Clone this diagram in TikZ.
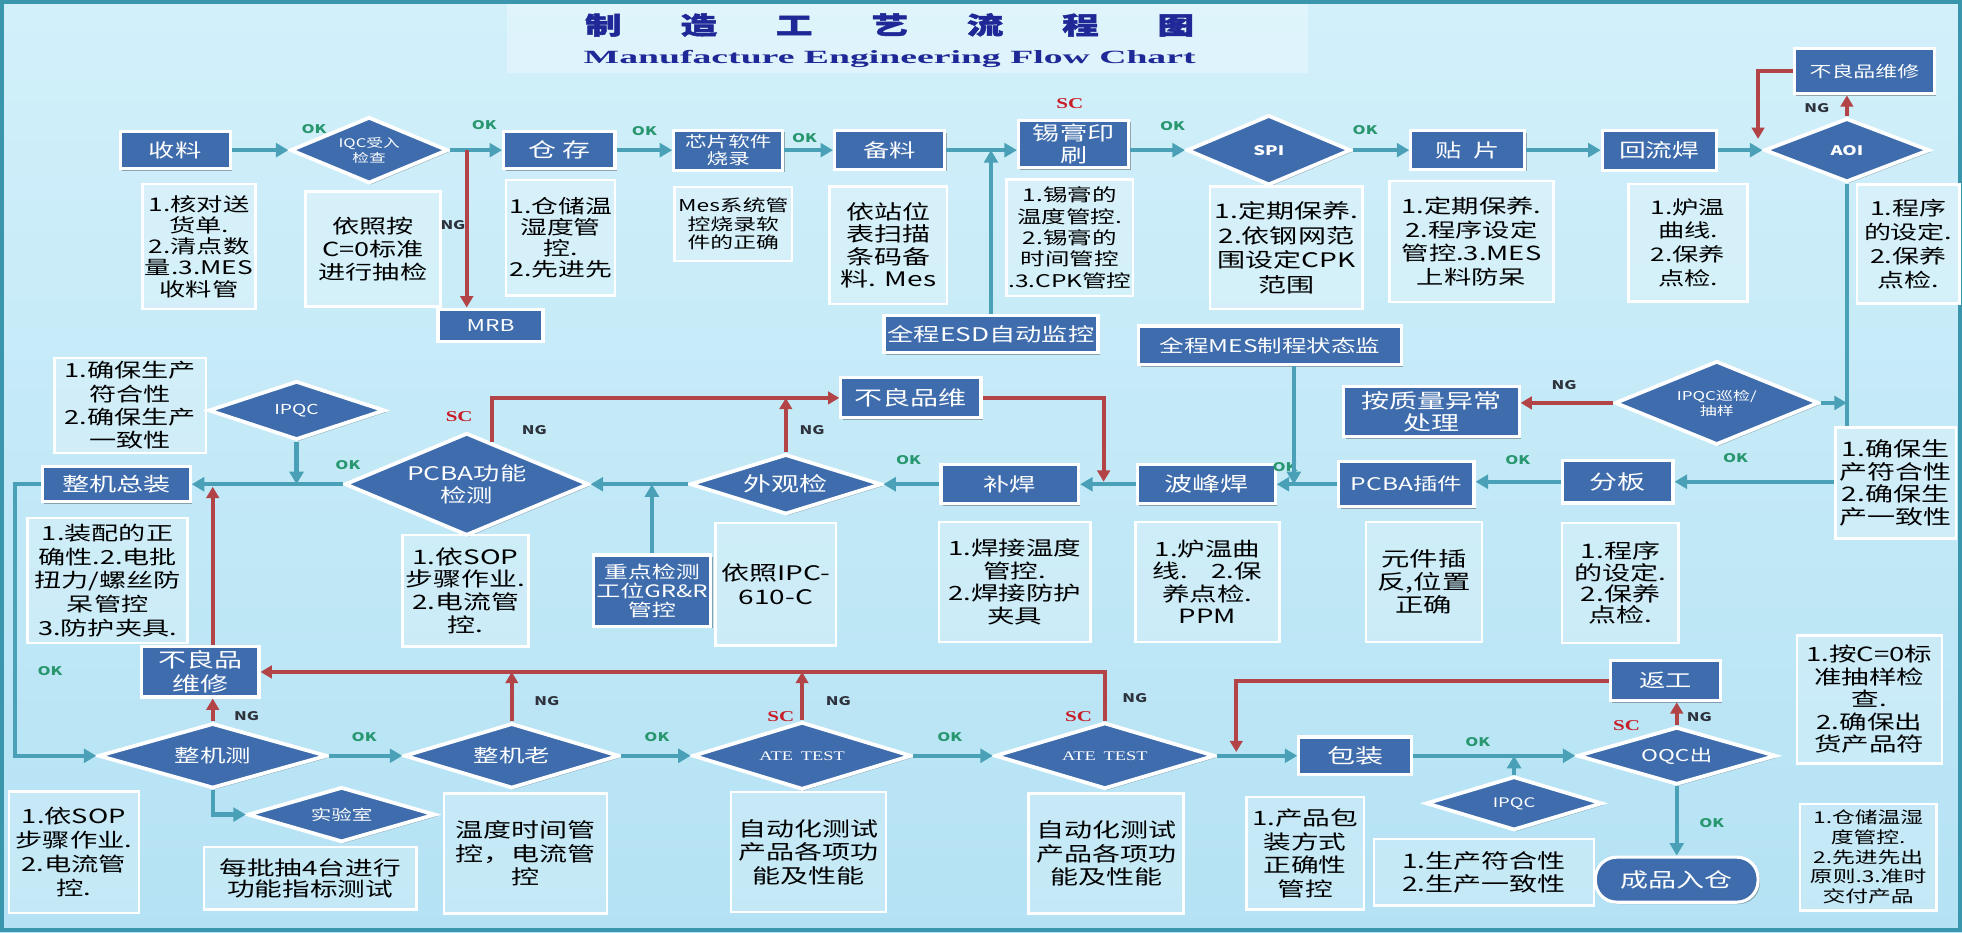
\documentclass[tikz,border=0pt]{standalone}
\usepackage{graphicx}
\usepackage{fontspec}
\setmainfont[FakeStretch=1.4]{Noto Sans CJK SC}
\newfontfamily\titlecjk[FakeStretch=1.5,FakeBold=2]{Noto Sans CJK SC}
\newfontfamily\serifw[FakeStretch=1.4]{Liberation Serif}
\newfontfamily\titleen{Liberation Serif}
\usetikzlibrary{shapes.geometric,arrows.meta,shadows}
\newcommand\myfs[2]{\fontsize{#1pt}{#2pt}\selectfont}
\newcommand\tg{\hspace{47pt}}
\definecolor{bgtop}{RGB}{210,240,250}
\definecolor{bgbot}{RGB}{180,226,244}
\definecolor{boxblue}{RGB}{62,108,172}
\definecolor{tealc}{RGB}{74,160,182}
\definecolor{redc}{RGB}{178,68,72}
\definecolor{okc}{RGB}{40,150,110}
\definecolor{ngc}{RGB}{45,50,60}
\definecolor{scc}{RGB}{200,30,40}
\definecolor{titlec}{RGB}{30,40,150}
\definecolor{framec}{RGB}{58,150,172}
\tikzset{
 bbox/.style={rectangle, fill=boxblue, draw=white, line width=2.5pt, text=white, inner sep=1pt, align=center,
   drop shadow={shadow xshift=1.5pt, shadow yshift=-1.5pt, fill=black, opacity=0.3}},
 bdia/.style={diamond, fill=boxblue, draw=white, line width=3pt, text=white, inner sep=0pt, align=center,
   drop shadow={shadow xshift=1.5pt, shadow yshift=-1.5pt, fill=black, opacity=0.25}},
 dbox/.style={rectangle, fill=white, fill opacity=0.22, text opacity=1, draw=white, draw opacity=1, line width=2pt, text=black, inner sep=1pt, align=center},
 tarr/.style={draw=tealc, line width=3.5pt, -{Triangle[length=10pt,width=11pt]}},
 tline/.style={draw=tealc, line width=3.5pt},
 rarr/.style={draw=redc, line width=3pt, -{Triangle[length=9pt,width=10pt]}},
 oklab/.style={text=okc, font=\myfs{9.5}{10}\bfseries, inner sep=0pt},
 nglab/.style={text=ngc, font=\myfs{9.5}{10}\bfseries, inner sep=0pt},
 sclab/.style={text=scc, font=\serifw\myfs{12}{12}\bfseries, inner sep=0pt},
}
\begin{document}
\begin{tikzpicture}[x=1pt,y=-1pt]
\useasboundingbox (0,0) rectangle (1568,745);
\fill[top color=bgtop,bottom color=bgbot] (0,0) rectangle (1568,745);
\fill[white,opacity=0.3] (405,3) rectangle (1045,58);
\draw[framec,line width=3pt] (1.5,1.5) rectangle (1566.5,743.5);

% title
\node[text=titlec,font=\titlecjk\bfseries\myfs{19.5}{20},inner sep=0pt] (t1) at (711,20) {制\tg 造\tg 工\tg 艺\tg 流\tg 程\tg 图};
\node[text=titlec,inner sep=0pt,anchor=base] (t2) at (711,51) {\resizebox{489pt}{10.5pt}{\titleen\bfseries Manufacture Engineering Flow Chart}};

% ---------- row 1 ----------
\node[bbox,minimum width=88pt,minimum height=30pt,font=\myfs{15}{17}] (shou) at (140,120) {收料};
\node[bdia,minimum width=126pt,minimum height=53pt,aspect=2.38,font=\myfs{9.5}{12}] (iqc) at (295,120) {IQC受入\\检查};
\node[bbox,minimum width=89pt,minimum height=30pt,font=\myfs{16}{17}] (cang) at (447,120) {仓\hspace{0.3em}存};
\node[bbox,minimum width=87pt,minimum height=32pt,font=\myfs{12.3}{14}] (xin) at (582,120) {芯片软件\\烧录};
\node[bbox,minimum width=88pt,minimum height=31pt,font=\myfs{15}{17}] (bei) at (711,120) {备料};
\node[bbox,minimum width=88pt,minimum height=38pt,font=\myfs{15.5}{18}] (xi) at (858,115) {锡膏印\\刷};
\node[bdia,minimum width=131pt,minimum height=56pt,aspect=2.34,font=\myfs{10.5}{12}\bfseries] (spi) at (1014,120) {SPI};
\node[bbox,minimum width=91pt,minimum height=31pt,font=\myfs{15}{17}] (tie) at (1173,120) {贴\hspace{0.6em}片};
\node[bbox,minimum width=91pt,minimum height=32pt,font=\myfs{15.3}{17}] (hui) at (1326,120) {回流焊};
\node[bdia,minimum width=132pt,minimum height=51pt,aspect=2.59,font=\myfs{10.5}{12}\bfseries] (aoi) at (1476,120) {AOI};
\node[bbox,minimum width=112pt,minimum height=36pt,font=\myfs{12.5}{14}] (blx) at (1490,57) {不良品维修};
\node[bbox,minimum width=84pt,minimum height=26pt,font=\myfs{13}{14}] (mrb) at (392,260) {MRB};
\node[bbox,minimum width=171pt,minimum height=30pt,font=\myfs{15}{17}] (esd) at (792,267) {全程ESD自动监控};
\node[bbox,minimum width=210pt,minimum height=31pt,font=\myfs{14}{16}] (mes) at (1015,276) {全程MES制程状态监};

\node[dbox,minimum width=90pt,minimum height=100pt,font=\myfs{15}{17}] (d1) at (159,197) {1.核对送\\货单.\\2.清点数\\量.3.MES\\收料管};
\node[dbox,minimum width=108pt,minimum height=92pt,font=\myfs{15.5}{18.5}] (d2) at (298,199) {依照按\\C=0标准\\进行抽检};
\node[dbox,minimum width=87pt,minimum height=92pt,font=\myfs{15.3}{17}] (d3) at (448,190) {1.仓储温\\湿度管\\控.\\2.先进先};
\node[dbox,minimum width=94pt,minimum height=59pt,font=\myfs{13}{15}] (d4) at (586,179) {Mes系统管\\控烧录软\\件的正确};
\node[dbox,minimum width=94pt,minimum height=94pt,font=\myfs{16}{18}] (d5) at (710,196) {依站位\\表扫描\\条码备\\料. Mes};
\node[dbox,minimum width=101pt,minimum height=93pt,font=\myfs{14}{17}] (d6) at (855,190) {1.锡膏的\\温度管控.\\2.锡膏的\\时间管控\\.3.CPK管控};
\node[dbox,minimum width=122pt,minimum height=98pt,font=\myfs{16}{19.5}] (d7) at (1028,198) {1.定期保养.\\2.依钢网范\\围设定CPK\\范围};
\node[dbox,minimum width=131pt,minimum height=97pt,font=\myfs{15.6}{18.7}] (d8) at (1176,193) {1.定期保养.\\2.程序设定\\管控.3.MES\\上料防呆};
\node[dbox,minimum width=95pt,minimum height=94pt,font=\myfs{15}{19}] (d9) at (1349,194) {1.炉温\\曲线.\\2.保养\\点检.};
\node[dbox,minimum width=82pt,minimum height=95pt,font=\myfs{15.4}{19}] (d10) at (1525,195) {1.程序\\的设定.\\2.保养\\点检.};

% ---------- row 2 ----------
\node[bbox,minimum width=118pt,minimum height=28pt,font=\myfs{15.5}{17}] (zz) at (93,387) {整机总装};
\node[bdia,minimum width=141pt,minimum height=47pt,aspect=3.0,font=\myfs{11}{12}] (ipqca) at (237,328) {IPQC};
\node[bdia,minimum width=195pt,minimum height=82pt,aspect=2.38,font=\myfs{15}{18}] (pcba) at (373,387) {PCBA功能\\检测};
\node[bdia,minimum width=153pt,minimum height=48pt,aspect=3.19,font=\myfs{16}{17}] (wg) at (628,387) {外观检};
\node[bbox,minimum width=110pt,minimum height=31pt,font=\myfs{15}{17}] (bh) at (807,387) {补焊};
\node[bbox,minimum width=110pt,minimum height=31pt,font=\myfs{16}{17}] (bf) at (964,387) {波峰焊};
\node[bbox,minimum width=108pt,minimum height=36pt,font=\myfs{14}{16}] (pcj) at (1124,387) {PCBA插件};
\node[bbox,minimum width=88pt,minimum height=34pt,font=\myfs{16}{17}] (fb) at (1293,385) {分板};
\node[bbox,minimum width=112pt,minimum height=32pt,font=\myfs{16}{17}] (blw) at (728,318) {不良品维};
\node[bbox,minimum width=140pt,minimum height=40pt,font=\myfs{16}{17.5}] (zl) at (1144,329) {按质量异常\\处理};
\node[bdia,minimum width=163pt,minimum height=67pt,aspect=2.43,font=\myfs{9.7}{12}] (ipqcx) at (1372,322) {IPQC巡检/\\抽样};
\node[bbox,minimum width=94pt,minimum height=57pt,font=\myfs{13.7}{15.3}] (zd) at (521,472) {重点检测\\工位GR\&R\\管控};

\node[dbox,minimum width=121pt,minimum height=76pt,font=\myfs{15.5}{18.7}] (dtl) at (104,324) {1.确保生产\\符合性\\2.确保生产\\一致性};
\node[dbox,minimum width=128pt,minimum height=100pt,font=\myfs{15.5}{19}] (dzz) at (86,464) {1.装配的正\\确性.2.电批\\扭力/螺丝防\\呆管控\\3.防护夹具.};
\node[dbox,minimum width=101pt,minimum height=89pt,font=\myfs{15.9}{18}] (dpcba) at (372,472) {1.依SOP\\步骤作业.\\2.电流管\\控.};
\node[dbox,minimum width=96pt,minimum height=98pt,font=\myfs{16}{18.7}] (dipc) at (620,467) {依照IPC-\\610-C};
\node[dbox,minimum width=121pt,minimum height=96pt,font=\myfs{15.7}{18}] (dbh) at (811,465) {1.焊接温度\\管控.\\2.焊接防护\\夹具};
\node[dbox,minimum width=115pt,minimum height=96pt,font=\myfs{15.7}{18}] (dbf) at (965,465) {1.炉温曲\\线.\hspace{1.2em}2.保\\养点检.\\PPM};
\node[dbox,minimum width=93pt,minimum height=96pt,font=\myfs{16.2}{18.7}] (dpcj) at (1138,465) {元件插\\反,位置\\正确};
\node[dbox,minimum width=93pt,minimum height=96pt,font=\myfs{16}{17}] (dfb) at (1295,466) {1.程序\\的设定.\\2.保养\\点检.};
\node[dbox,minimum width=96pt,minimum height=89pt,font=\myfs{16}{18}] (dr) at (1515,386) {1.确保生\\产符合性\\2.确保生\\产一致性};

% ---------- row 3 ----------
\node[bdia,minimum width=183pt,minimum height=52pt,aspect=3.5,font=\myfs{14.5}{16}] (zjc) at (170,604) {整机测};
\node[bdia,minimum width=172pt,minimum height=52pt,aspect=3.3,font=\myfs{14.5}{16}] (zjl) at (409,604) {整机老};
\node[bdia,minimum width=175pt,minimum height=54pt,aspect=3.24,font=\serifw\myfs{10.5}{12}] (ate1) at (641,604) {ATE\hspace{0.6em}TEST};
\node[bdia,minimum width=176pt,minimum height=53pt,aspect=3.3,font=\serifw\myfs{10.5}{12}] (ate2) at (883,604) {ATE\hspace{0.6em}TEST};
\node[bbox,minimum width=90pt,minimum height=30pt,font=\myfs{16}{17}] (bz) at (1083,604) {包装};
\node[bdia,minimum width=159pt,minimum height=46pt,aspect=3.46,font=\myfs{13}{14}] (oqc) at (1340,604) {OQC出};
\node[bbox,minimum width=88pt,minimum height=32pt,font=\myfs{15}{17}] (fg) at (1331,544) {返工};
\node[bbox,rounded corners=17pt,minimum width=130pt,minimum height=36pt,font=\myfs{16}{17}] (cp) at (1340,703) {成品入仓};
\node[bdia,minimum width=141pt,minimum height=43pt,aspect=3.28,font=\myfs{10.5}{12}] (ipqcb) at (1210,642) {IPQC};
\node[bdia,minimum width=150pt,minimum height=44pt,aspect=3.4,font=\myfs{11.7}{13}] (sys) at (273,651) {实验室};
\node[bbox,minimum width=94pt,minimum height=40pt,font=\myfs{16}{18.7}] (blx2) at (160,537) {不良品\\维修};

\node[dbox,minimum width=104pt,minimum height=97pt,font=\myfs{15.6}{19}] (dsop) at (59,681) {1.依SOP\\步骤作业.\\2.电流管\\控.};
\node[dbox,minimum width=170pt,minimum height=50pt,font=\myfs{15.8}{17}] (dmp) at (248,702) {每批抽4台进行\\功能指标测试};
\node[dbox,minimum width=130pt,minimum height=96pt,font=\myfs{16}{18.7}] (dwd) at (420,682) {温度时间管\\控，电流管\\控};
\node[dbox,minimum width=124pt,minimum height=96pt,font=\myfs{16}{18.7}] (date1) at (646,681) {自动化测试\\产品各项功\\能及性能};
\node[dbox,minimum width=124pt,minimum height=96pt,font=\myfs{16}{18.7}] (date2) at (884,682) {自动化测试\\产品各项功\\能及性能};
\node[dbox,minimum width=94pt,minimum height=90pt,font=\myfs{15.8}{18.7}] (dbz) at (1043,682) {1.产品包\\装方式\\正确性\\管控};
\node[dbox,minimum width=176pt,minimum height=53pt,font=\myfs{16}{18.7}] (dsc) at (1186,697) {1.生产符合性\\2.生产一致性};
\node[dbox,minimum width=116pt,minimum height=102pt,font=\myfs{15.7}{18}] (dc0) at (1494,559) {1.按C=0标\\准抽样检\\查.\\2.确保出\\货产品符};
\node[dbox,minimum width=109pt,minimum height=85pt,font=\myfs{13}{15.7}] (dcc) at (1493,685) {1.仓储温湿\\度管控.\\2.先进先出\\原则.3.准时\\交付产品};

% ---------- labels ----------
\node[oklab] (ok1) at (251,103) {OK};
\node[oklab] (ok2) at (387,100) {OK};
\node[oklab] (ok3) at (515,105) {OK};
\node[oklab] (ok4) at (643,110) {OK};
\node[oklab] (ok5) at (937,101) {OK};
\node[oklab] (ok6) at (1091,104) {OK};
\node[oklab] (ok7) at (278,372) {OK};
\node[oklab] (ok8) at (726,368) {OK};
\node[oklab] (ok9) at (1027,373) {OK};
\node[oklab] (ok10) at (1213,368) {OK};
\node[oklab] (ok11) at (1387,366) {OK};
\node[oklab] (ok12) at (40,536) {OK};
\node[oklab] (ok13) at (291,589) {OK};
\node[oklab] (ok14) at (525,589) {OK};
\node[oklab] (ok15) at (759,589) {OK};
\node[oklab] (ok16) at (1181,593) {OK};
\node[oklab] (ok17) at (1368,658) {OK};
\node[nglab] (ng1) at (362,180) {NG};
\node[nglab] (ng2) at (1452,86) {NG};
\node[nglab] (ng3) at (427,344) {NG};
\node[nglab] (ng4) at (649,344) {NG};
\node[nglab] (ng5) at (1250,308) {NG};
\node[nglab] (ng6) at (197,572) {NG};
\node[nglab] (ng7) at (437,560) {NG};
\node[nglab] (ng8) at (670,560) {NG};
\node[nglab] (ng9) at (907,558) {NG};
\node[nglab] (ng10) at (1358,573) {NG};
\node[sclab] (sc1) at (855,83) {SC};
\node[sclab] (sc2) at (367,333) {SC};
\node[sclab] (sc3) at (624,573) {SC};
\node[sclab] (sc4) at (862,573) {SC};
\node[sclab] (sc5) at (1300,580) {SC};

% ---------- connectors row 1 ----------
\draw[tarr] (shou.east) -- (iqc.west);
\draw[tarr] (iqc.east) -- (cang.west);
\draw[tarr] (cang.east) -- (xin.west);
\draw[tarr] (xin.east) -- (bei.west);
\draw[tarr] (bei.east) -- (bei.east -| xi.west);
\draw[tarr] (xi.east |- spi.west) -- (spi.west);
\draw[tarr] (spi.east) -- (tie.west);
\draw[tarr] (tie.east) -- (hui.west);
\draw[tarr] (hui.east) -- (aoi.west);
\coordinate (ngm) at (373,120);
\draw[rarr] (ngm) -- (ngm |- mrb.north);
\draw[tarr] (esd.north) -- (esd.north |- bei.east);
\draw[rarr] (aoi.north) -- (aoi.north |- blx.south);
\coordinate (rk) at (1405,111);
\draw[rarr] (blx.west) -| (rk);
\draw[tline] (aoi.south) -- (aoi.south |- dr.north);

% ---------- connectors row 2 ----------
\draw[tarr] (ipqcx.east) -- (ipqcx.east -| aoi.south);
\draw[rarr] (ipqcx.west) -- (ipqcx.west -| zl.east);
\draw[tarr] (dr.west |- fb.east) -- (fb.east);
\draw[tarr] (fb.west) -- (fb.west -| pcj.east);
\draw[tarr] (pcj.west) -- (bf.east);
\draw[tarr] (bf.west) -- (bh.east);
\draw[tarr] (bh.west) -- (wg.east);
\draw[tarr] (wg.west) -- (pcba.east);
\draw[tarr] (pcba.west) -- (zz.east);
\draw[tarr] (ipqca.south) -- (ipqca.south |- zz.east);
\draw[tarr] (zd.north) -- (zd.north |- wg.west);
\coordinate (mf) at ([xshift=19pt]mes.south);
\draw[tarr] (mf) -- (mf |- bf.east);
\coordinate (pr) at ([xshift=20pt,yshift=-8.4pt]pcba.north);
\draw[rarr] (pr) |- (blw.west);
\draw[rarr] (wg.north) -- (wg.north |- blw.west);
\coordinate (rj) at (882,385);
\draw[rarr] (blw.east) -| (rj);
\coordinate (lc) at (12,387);
\draw[tarr] (zz.west) -- (lc) |- (zjc.west);
\coordinate (rz) at (170,389);
\draw[rarr] (blx2.north -| rz) -- (rz);

% ---------- connectors row 3 ----------
\draw[tarr] (zjc.east) -- (zjl.west);
\draw[tarr] (zjl.east) -- (ate1.west);
\draw[tarr] (ate1.east) -- (ate2.west);
\draw[tarr] (ate2.east) -- (bz.west);
\draw[tarr] (bz.east) -- (oqc.west);
\draw[tarr] (ipqcb.north) -- (ipqcb.north |- bz.east);
\draw[tarr] (oqc.south) -- (oqc.south |- cp.north);
\draw[tarr] (zjc.south) |- (sys.west);
\draw[rarr] (zjc.north) -- (zjc.north |- blx2.south);
\draw[rarr] (ate2.north) |- (blx2.east);
\draw[rarr] (zjl.north) -- (zjl.north |- blx2.east);
\draw[rarr] (ate1.north) -- (ate1.north |- blx2.east);
\draw[rarr] (oqc.north) -- (oqc.north |- fg.south);
\coordinate (rb) at (988,601);
\draw[rarr] (fg.west) -| (rb);
\end{tikzpicture}
\end{document}
